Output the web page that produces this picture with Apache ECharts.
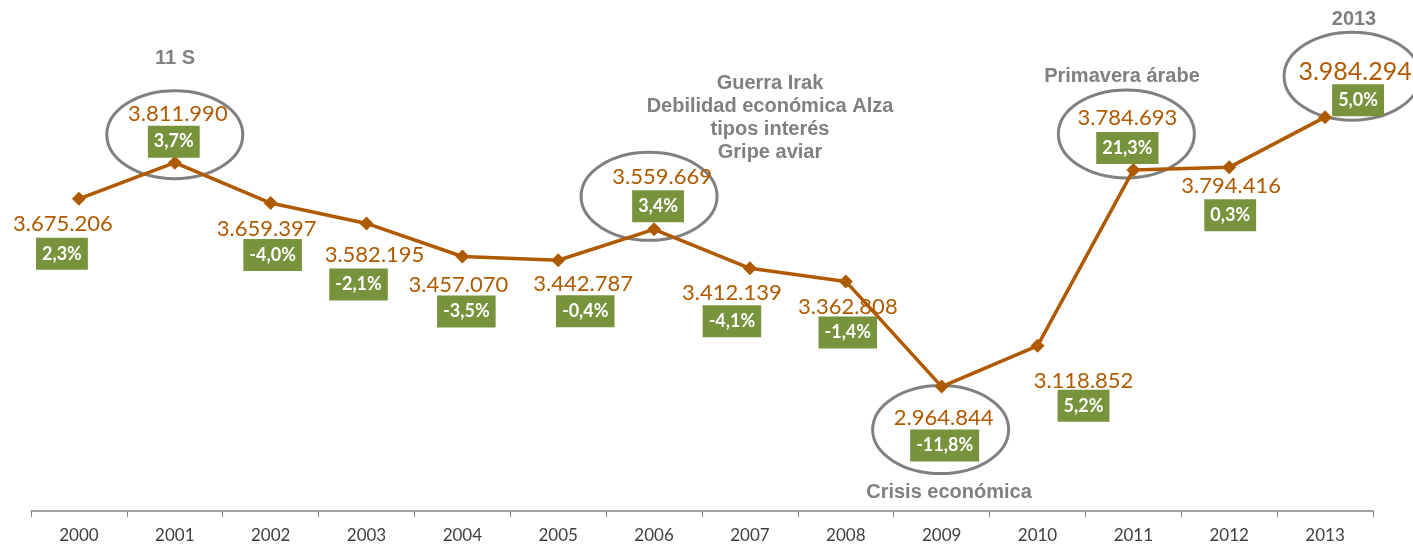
<!DOCTYPE html>
<html>
<head>
<meta charset="utf-8">
<script src="https://cdn.jsdelivr.net/npm/echarts@6/dist/echarts.min.js"></script>
<style>
  html, body { margin: 0; padding: 0; background: #fff; }
  #chart { width: 1413px; height: 544px; }
</style>
</head>
<body>
<div id="chart"></div>
<script>
// datos
const years = ['2000', '2001', '2002', '2003', '2004', '2005', '2006', '2007', '2008', '2009', '2010', '2011', '2012', '2013'];
const values = [3675206, 3811990, 3659397, 3582195, 3457070, 3442787, 3559669, 3412139, 3362808, 2964844, 3118852, 3784693, 3794416, 3984294];
const valueTexts = ['3.675.206', '3.811.990', '3.659.397', '3.582.195', '3.457.070', '3.442.787', '3.559.669', '3.412.139', '3.362.808', '2.964.844', '3.118.852', '3.784.693', '3.794.416', '3.984.294'];
const changes = ['2,3%', '3,7%', '-4,0%', '-2,1%', '-3,5%', '-0,4%', '3,4%', '-4,1%', '-1,4%', '-11,8%', '5,2%', '21,3%', '0,3%', '5,0%'];

// posición de etiquetas respecto al punto
const valueOffsets = [[-16, 25], [3, -49], [-4, 26], [8, 31], [-4, 28], [25, 24], [8, -52], [-18, 25], [2, 26], [2, 31], [46, 35], [-6, -52], [2, 19], [30, -45]];
const boxOffsets = [[-17, 55], [-1, -21], [2, 52], [-8, 61], [4, 55], [27, 51], [4, -23], [-18, 53], [2, 51], [3, 59], [46, 60], [-6, -22], [1, 48], [33, -17]];

// elipses (índice del año, desplazamiento del centro)
const circled = [[1, 0, -28], [6, -5, -33], [9, -1, 43], [11, -7, -36], [13, 27, -41]];

const brown = '#B05A00';
const green = '#77933C';
const gray = '#808080';

const chart = echarts.init(document.getElementById('chart'));

const option = {
    animation: false,
    grid: { left: 31, right: 40, top: 113, bottom: 32 },
    xAxis: {
        type: 'category',
        data: years,
        boundaryGap: true,
        axisLine: { lineStyle: { color: '#868686', width: 1.5 } },
        axisTick: { show: true, length: 6, interval: 0, lineStyle: { color: '#868686' } },
        axisLabel: { color: '#404040', fontSize: 17, fontFamily: 'Lato', margin: 16 }
    },
    yAxis: {
        type: 'value',
        min: 2494000,
        max: 4000000,
        show: false,
        splitLine: { show: false }
    },
    series: [
        {
            type: 'line',
            data: values.map((v, i) => ({
                value: v,
                label: {
                    offset: valueOffsets[i],
                    fontSize: i === 13 ? 25 : 22
                }
            })),
            clip: false,
            symbol: 'diamond',
            symbolSize: 14,
            lineStyle: { color: brown, width: 3.5 },
            itemStyle: { color: brown },
            label: {
                show: true,
                position: 'inside',
                color: brown,
                fontFamily: 'Lato',
                formatter: (p) => valueTexts[p.dataIndex]
            },
            z: 3
        },
        {
            type: 'line',
            data: values.map((v, i) => ({
                value: v,
                label: { offset: boxOffsets[i] }
            })),
            clip: false,
            symbol: 'circle',
            symbolSize: 1,
            itemStyle: { color: 'rgba(0,0,0,0)' },
            lineStyle: { opacity: 0 },
            label: {
                show: true,
                position: 'inside',
                color: '#fff',
                fontFamily: 'Lato',
                fontWeight: 'bold',
                fontSize: 18,
                lineHeight: 22,
                backgroundColor: green,
                padding: [5, 6],
                formatter: (p) => changes[p.dataIndex]
            },
            z: 4
        }
    ]
};

chart.setOption(option);

// elipses y textos de acontecimientos
const annoStyle = { fill: gray, font: 'bold 20px "Liberation Sans"', align: 'center', verticalAlign: 'middle' };
const graphics = circled.map(([i, dx, dy]) => {
    const pt = chart.convertToPixel({ seriesIndex: 0 }, [i, values[i]]);
    return {
        type: 'ellipse',
        shape: { cx: pt[0] + dx, cy: pt[1] + dy, rx: 68, ry: 44 },
        style: { fill: 'none', stroke: gray, lineWidth: 3 },
        z: 2
    };
});
graphics.push(
    { type: 'text', x: 175, y: 58, style: Object.assign({ text: '11 S' }, annoStyle) },
    { type: 'text', x: 770, y: 118, style: Object.assign({ text: 'Guerra Irak\nDebilidad económica Alza\ntipos interés\nGripe aviar', lineHeight: 23 }, annoStyle) },
    { type: 'text', x: 1122, y: 76, style: Object.assign({ text: 'Primavera árabe' }, annoStyle) },
    { type: 'text', x: 1354, y: 19, style: Object.assign({ text: '2013' }, annoStyle) },
    { type: 'text', x: 949, y: 492, style: Object.assign({ text: 'Crisis económica' }, annoStyle) }
);
chart.setOption({ graphic: graphics });
</script>
</body>
</html>
